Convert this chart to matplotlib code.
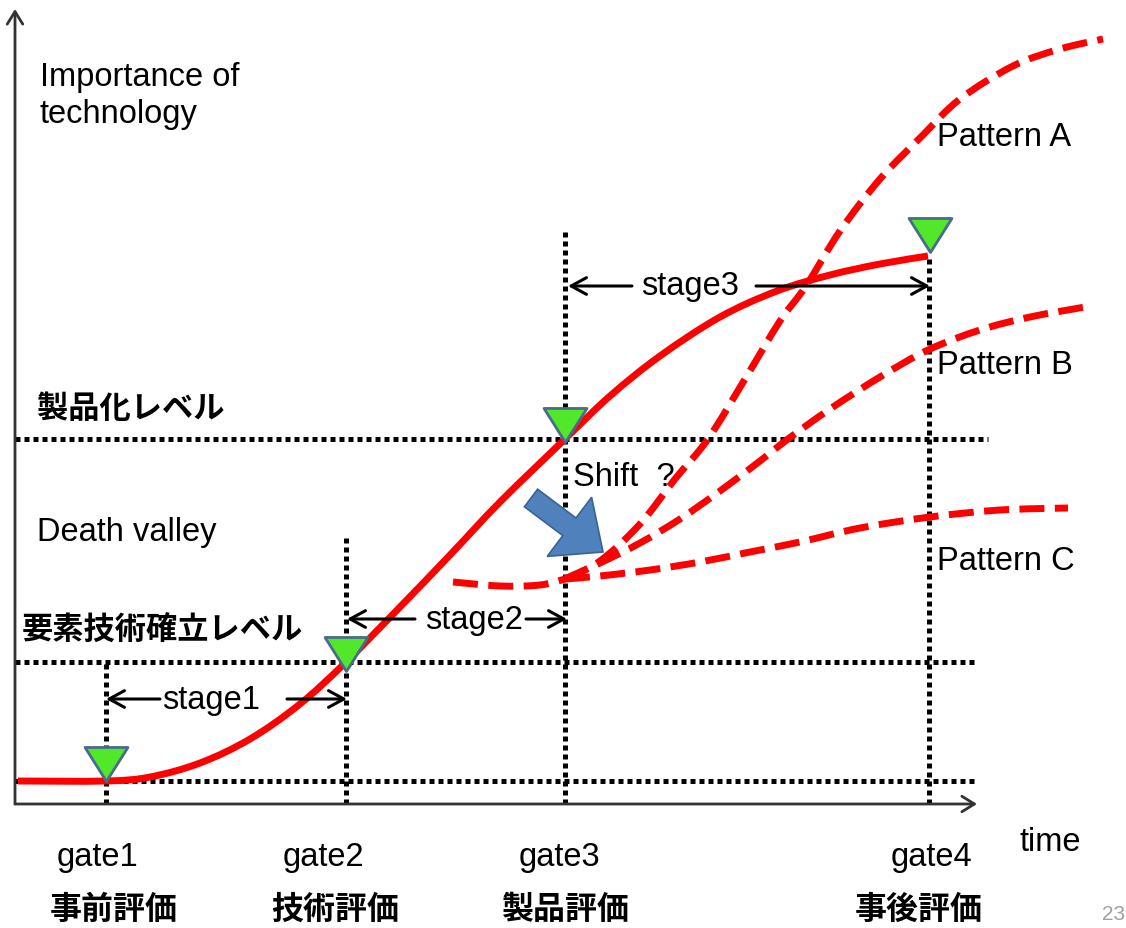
import matplotlib
matplotlib.use("Agg")
import matplotlib.pyplot as plt
from matplotlib.path import Path
from matplotlib.patches import FancyArrow, PathPatch

plt.rcParams['font.family'] = ['Liberation Sans', 'Noto Sans CJK JP', 'DejaVu Sans']

# --- data -------------------------------------------------------------
# time axis runs 0..975, importance axis 0..790
base_level = 23
element_level = 142      # 要素技術確立レベル
product_level = 365      # 製品化レベル

gate_x = [106, 346, 565, 929]
gate_names = ["gate1", "gate2", "gate3", "gate4"]
gate_jp = ["事前評価", "技術評価", "製品評価", "事後評価"]
gate_marker_x = [106, 346, 565, 930]
gate_marker_y = [23, 133, 362, 552]
gate_line_top = [142, 270, 575, 545]

# planned technology growth curve
main_t = [18, 106, 150, 200, 250, 300, 346, 400, 450, 500, 565,
          610, 660, 720, 777, 830, 880, 928]
main_v = [23, 23, 27, 41, 65, 100, 142, 197, 249, 302, 365,
          408, 448, 487, 513, 529, 540, 548]

# shifted start after the death valley
shift_t = [453, 500, 540, 565]
shift_v = [222, 218, 219, 225]

pattern_a_t = [565, 600, 640, 675, 708, 745, 780, 806, 840, 880, 922, 960, 1013, 1060, 1103]
pattern_a_v = [225, 243, 280, 325, 365, 425, 483, 518, 573, 625, 668, 705, 738, 755, 765]

pattern_b_t = [565, 600, 640, 680, 720, 760, 788, 830, 880, 928, 980, 1030, 1085]
pattern_b_v = [225, 241, 261, 285, 313, 343, 365, 395, 427, 454, 474, 487, 497]

pattern_c_t = [565, 600, 650, 700, 750, 800, 860, 930, 1000, 1068]
pattern_c_v = [225, 228, 234, 242, 252, 262, 276, 287, 294, 296]

stage_names = ["stage1", "stage2", "stage3"]
stage_y = [105, 185, 518]
stage_left = [(160, 106), (415, 347), (632, 568)]
stage_right = [(287, 347), (526, 567), (756, 930)]
stage_text_x = [211, 474, 690]


def smooth_path(xs, ys):
    """Catmull-Rom style cubic Bezier path through the given points."""
    pts = list(zip(xs, ys))
    verts = [pts[0]]
    codes = [Path.MOVETO]
    n = len(pts)
    for i in range(n - 1):
        p0 = pts[i - 1] if i > 0 else pts[i]
        p1 = pts[i]
        p2 = pts[i + 1]
        p3 = pts[i + 2] if i + 2 < n else pts[i + 1]
        c1 = (p1[0] + (p2[0] - p0[0]) / 6, p1[1] + (p2[1] - p0[1]) / 6)
        c2 = (p2[0] - (p3[0] - p1[0]) / 6, p2[1] - (p3[1] - p1[1]) / 6)
        verts += [c1, c2, p2]
        codes += [Path.CURVE4] * 3
    return Path(verts, codes)


# --- figure -----------------------------------------------------------
fig = plt.figure(figsize=(11.26, 9.29), dpi=100)
ax = fig.add_axes([0, 0, 1, 1])
ax.set_xlim(0, 1126)
ax.set_ylim(-124, 805)
ax.axis('off')

red = '#ff0000'
dot_kw = dict(color='black', lw=3.6, linestyle=(0, (1.0, 0.8)), dash_capstyle='butt', zorder=2)

# axes with open arrow heads
axis_kw = dict(arrowstyle='->,head_length=0.45,head_width=0.28', color='#333333', lw=2,
               mutation_scale=20, shrinkA=0, shrinkB=0)
ax.annotate('', xy=(15, 795), xytext=(15, 0), arrowprops=axis_kw)
ax.annotate('', xy=(977, 0), xytext=(15, 0), arrowprops=axis_kw)

# level lines
ax.plot([15, 975], [base_level, base_level], **dot_kw)
ax.plot([15, 975], [element_level, element_level], **dot_kw)
ax.plot([15, 988], [product_level, product_level], **dot_kw)

# gate lines
for gx, top in zip(gate_x, gate_line_top):
    ax.plot([gx, gx], [0, top], **dot_kw)

# curves
ax.add_patch(PathPatch(smooth_path(main_t, main_v), fill=False, edgecolor=red, lw=5,
                       capstyle='butt', zorder=4))
for ts, vs in [(shift_t, shift_v), (pattern_a_t, pattern_a_v),
               (pattern_b_t, pattern_b_v), (pattern_c_t, pattern_c_v)]:
    ax.add_patch(PathPatch(smooth_path(ts, vs), fill=False, edgecolor=red, lw=5,
                           linestyle=(0, (3.6, 1.5)), capstyle='butt', zorder=4))

# gate markers: downward triangles with apex on the curve
tri = Path([(0, 0), (-0.63, 1), (0.63, 1), (0, 0)],
           [Path.MOVETO, Path.LINETO, Path.LINETO, Path.CLOSEPOLY])
ax.plot(gate_marker_x, gate_marker_y, linestyle='none', marker=tri, markersize=49,
        markerfacecolor='#52e82a', markeredgecolor='#4a6b8e', markeredgewidth=2, zorder=6)

# shift arrow
ax.add_patch(FancyArrow(531, 306, 72, -54, width=22, head_width=74, head_length=42,
                        length_includes_head=True, facecolor='#4f81bd',
                        edgecolor='#3b6390', lw=1.2, zorder=5))

# stage spans
stage_kw = dict(arrowstyle='->,head_length=0.55,head_width=0.3', color='black', lw=2.2,
                mutation_scale=20, shrinkA=0, shrinkB=0)
for name, y, (l0, l1), (r0, r1), tx in zip(stage_names, stage_y, stage_left,
                                             stage_right, stage_text_x):
    ax.annotate('', xy=(l1, y), xytext=(l0, y), arrowprops=stage_kw, zorder=7)
    ax.annotate('', xy=(r1, y), xytext=(r0, y), arrowprops=stage_kw, zorder=7)
    ax.text(tx, y, name, fontsize=23.5, ha='center', va='center', zorder=7)

# labels
fs = 23.5
ax.text(40, 709, "Importance of\ntechnology", fontsize=fs, ha='left', va='center',
        linespacing=1.25)
ax.text(37, 395, "製品化レベル", fontsize=22.5, ha='left', va='center', fontweight='bold')
ax.text(37, 273, "Death valley", fontsize=fs, ha='left', va='center')
ax.text(22, 173, "要素技術確立レベル", fontsize=22.5, ha='left', va='center', fontweight='bold')
ax.text(573, 328, "Shift  ?", fontsize=fs, ha='left', va='center')
ax.text(937, 667, "Pattern A", fontsize=fs, ha='left', va='center')
ax.text(937, 439, "Pattern B", fontsize=fs, ha='left', va='center')
ax.text(937, 243, "Pattern C", fontsize=fs, ha='left', va='center')
ax.text(1020, -38, "time", fontsize=fs, ha='left', va='center')

gate_label_x = [97, 323, 559, 932]
gate_jp_x = [114, 335, 566, 919]
for name, jp, gx, jx in zip(gate_names, gate_jp, gate_label_x, gate_jp_x):
    ax.text(gx, -53, name, fontsize=fs, ha='center', va='center')
    ax.text(jx, -106, jp, fontsize=23, ha='center', va='center', fontweight='bold')

ax.text(1102, -110, "23", fontsize=15, color='#a0a0a0', ha='left', va='center')

fig.savefig('out.png', dpi=100)
plt.close(fig)
